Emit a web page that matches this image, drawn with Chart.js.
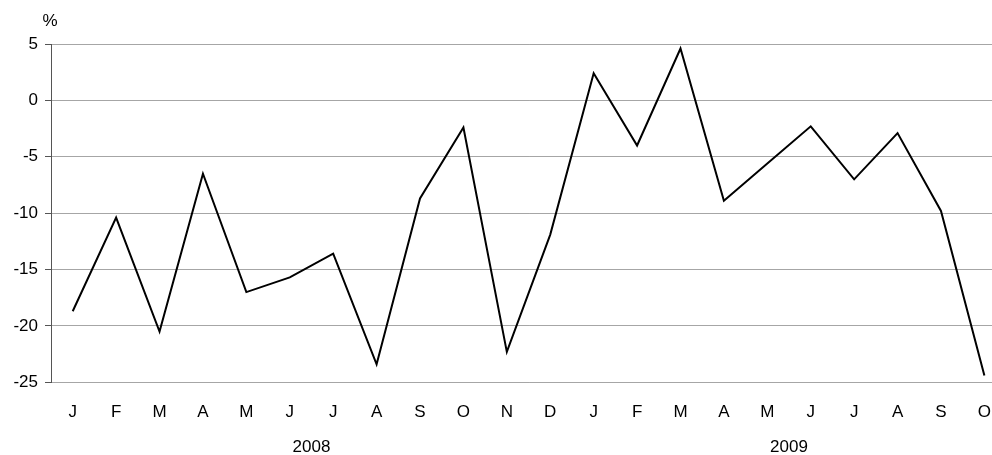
<!DOCTYPE html>
<html>
<head>
<meta charset="utf-8">
<script src="https://cdn.jsdelivr.net/npm/chart.js@4"></script>
<style>
html,body{margin:0;padding:0;background:#fff;overflow:hidden;width:992px;height:455px;}
canvas{display:block;}
</style>
</head>
<body>
<canvas id="c" width="1011" height="455"></canvas>
<script>
const months = ['J','F','M','A','M','J','J','A','S','O','N','D','J','F','M','A','M','J','J','A','S','O'];
const values = [-18.7,-10.4,-20.5,-6.5,-17.0,-15.7,-13.6,-23.4,-8.7,-2.4,-22.3,-11.9,2.4,-4.0,4.6,-8.9,-5.6,-2.3,-7.0,-2.9,-9.8,-24.4];
const years = ['2008','2009'];
const yearCounts = [12,10];
const yMin = -25, yMax = 5, yStep = 5;
const unitLabel = '%';

const FONT = 'Liberation Sans, Arial, sans-serif';

const extras = {
  id: 'extras',
  afterDraw(chart) {
    const ctx = chart.ctx;
    const x = chart.scales.x;
    ctx.save();
    ctx.fillStyle = '#000';
    ctx.font = '17px ' + FONT;
    ctx.textAlign = 'center';
    ctx.textBaseline = 'middle';
    let start = 0;
    years.forEach((y, i) => {
      const end = start + yearCounts[i] - 1;
      const cx = (x.getPixelForValue(start) + x.getPixelForValue(end)) / 2;
      ctx.fillText(y, cx, 447);
      start = end + 1;
    });
    ctx.fillText(unitLabel, 50, 21);
    ctx.restore();
  }
};

new Chart(document.getElementById('c'), {
  type: 'line',
  data: {
    labels: months,
    datasets: [{
      data: values,
      borderColor: '#000',
      borderWidth: 2,
      pointRadius: 0,
      tension: 0,
      fill: false
    }]
  },
  options: {
    responsive: false,
    animation: false,
    devicePixelRatio: 1,
    layout: { padding: { top: 44, left: 0, right: 0, bottom: 0 } },
    plugins: { legend: { display: false }, tooltip: { enabled: false } },
    scales: {
      x: {
        offset: true,
        grid: { display: false, drawTicks: false },
        border: { display: false },
        ticks: { color: '#000', font: { size: 17, family: FONT }, padding: 20, maxRotation: 0, autoSkip: false },
        afterFit(s) { s.height = 72.7; }
      },
      y: {
        min: yMin, max: yMax,
        ticks: { stepSize: yStep, color: '#000', font: { size: 17, family: FONT }, padding: 7 },
        grid: { color: '#a6a6a6', lineWidth: 1, tickLength: 6, tickColor: '#555' },
        border: { display: true, color: '#555', width: 1 },
        afterFit(s) { s.width = 51; }
      }
    }
  },
  plugins: [extras]
});
</script>
</body>
</html>
